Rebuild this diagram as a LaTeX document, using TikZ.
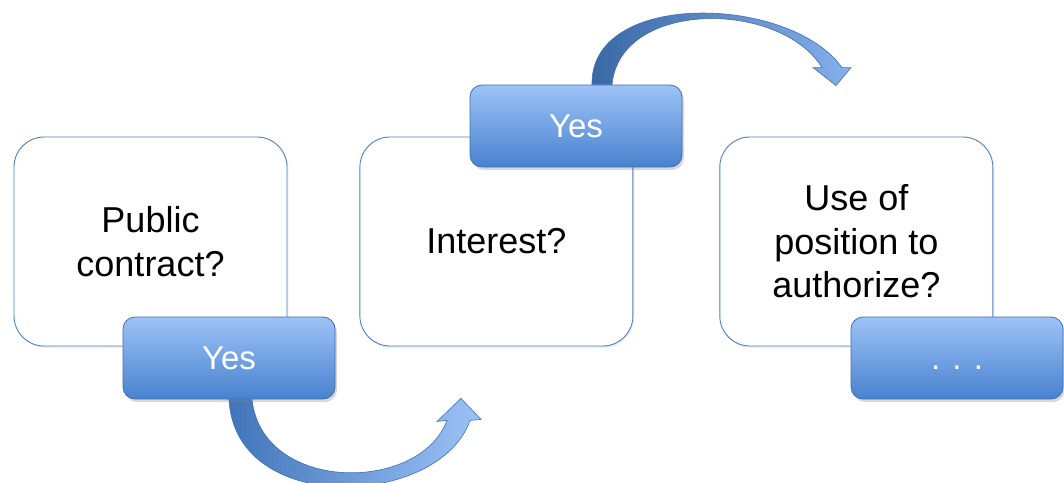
\documentclass[tikz,border=0pt]{standalone}
\usepackage{fontspec}
\setmainfont{Liberation Sans}
\usetikzlibrary{positioning}
\usetikzlibrary{calc,shadows,backgrounds}
\definecolor{frameblue}{RGB}{79,129,189}
\definecolor{lightblue}{RGB}{157,195,248}
\definecolor{darkblue}{RGB}{72,130,206}
\definecolor{edgeblue}{RGB}{65,112,175}

\begin{document}
\begin{tikzpicture}[
x=1pt, y=-1pt,
question/.style = {
  draw=frameblue, line width=0.9pt, fill=white,
  rounded corners=30pt,
  minimum width=273pt, minimum height=209pt,
  align=center, inner sep=0pt,
  font=\fontsize{36}{43.5}\selectfont,
  drop shadow={opacity=0.12, shadow xshift=1.5pt, shadow yshift=-2pt}},
answer/.style = {
  draw=edgeblue, line width=0.8pt,
  top color=lightblue, bottom color=darkblue,
  rounded corners=12pt,
  minimum width=212pt, minimum height=82pt,
  text height=23pt, text depth=0pt,
  text=white, font=\fontsize{33}{40}\selectfont,
  drop shadow={opacity=0.3, shadow xshift=2pt, shadow yshift=-3pt}},
curvearrow/.style = {draw=edgeblue, line width=0.6pt},
node distance = 72pt,
]
\useasboundingbox (0,0) rectangle (1064,482);

\node[question] (contract) at (150.5,241.5) {Public\\contract?};
\node[question, right = 72pt of contract] (interest) {Interest?};
\node[question, right = 86pt of interest] (position) {Use of\\position to\\authorize?};

\node[answer] (yes1) at (229,358) {Yes};
\node[answer] (yes2) at (576,126) {Yes};
\node[answer] (more) at (957,358) {. . .};

\begin{scope}[on background layer]
\fill[white] (0,0) rectangle (1064,482);
% down and round to the next question
\begin{scope}[shift={(yes1.south)}]
\path[curvearrow, left color=darkblue!90!black, right color=lightblue]
  (0,0) .. controls (6,118) and (211,108) .. (241,21)
  -- (252,20) -- (232,-1) -- (208,22) -- (218,21)
  .. controls (191,94) and (33,94) .. (23,0) -- cycle;
\end{scope}
% up and over to the last question
\begin{scope}[shift={(yes2.north)}]
\path[curvearrow, left color=darkblue!80!black, right color=lightblue!70!darkblue]
  (16,0) .. controls (14,-95) and (214,-90) .. (266,-17)
  -- (275,-17) -- (260,1) -- (237,-17) -- (246,-17)
  .. controls (204,-85) and (44,-85) .. (36,0) -- cycle;
\end{scope}
\end{scope}

\end{tikzpicture}
\end{document}
